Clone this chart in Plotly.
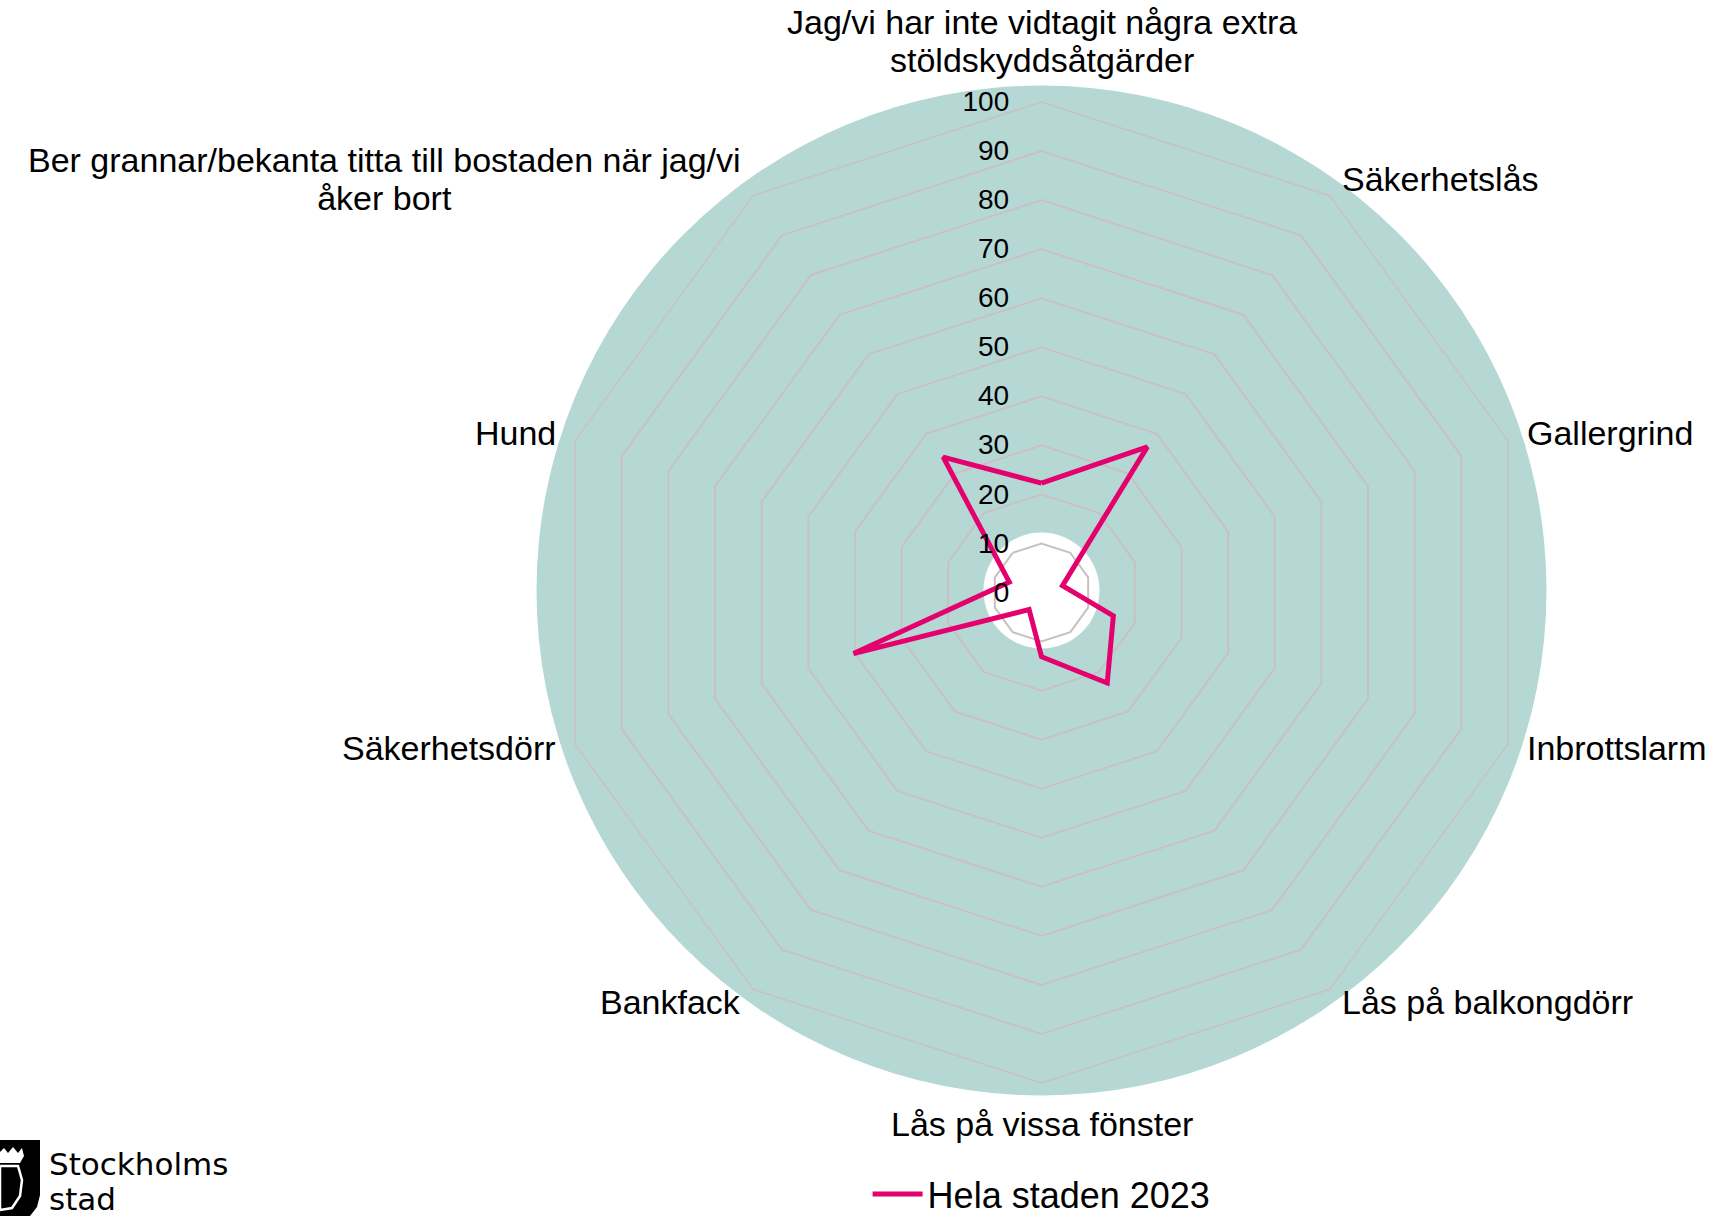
import math
import plotly.graph_objects as go

# ---------------- data ----------------
categories = [
    "Jag/vi har inte vidtagit några extra<br>stöldskyddsåtgärder",
    "Säkerhetslås",
    "Gallergrind",
    "Inbrottslarm",
    "Lås på balkongdörr",
    "Lås på vissa fönster",
    "Bankfack",
    "Säkerhetsdörr",
    "Hund",
    "Ber grannar/bekanta titta till bostaden när jag/vi<br>åker bort",
]
values_2023 = [22.3, 36.7, 4.5, 15.4, 22.8, 13.1, 4.3, 40.3, 6.9, 34.1]
series_name = "Hela staden 2023"
radial_ticks = [0, 10, 20, 30, 40, 50, 60, 70, 80, 90, 100]

# ---------------- layout geometry ----------------
W, H = 1716, 1216
CX, CY, R = 1041.5, 592.5, 490.5          # polar centre / radius in px
TEAL_R, HOLE_R = 505, 58
LABEL_PAD = 18

def px(x, y):
    return x / W, 1 - y / H

FONT = "Liberation Sans, Arial, sans-serif"
PINK = "#E4006D"
GRID = "#C9C0C2"
TEAL = "#B6D8D5"

fig = go.Figure()
fig.add_trace(go.Scatterpolar(
    r=values_2023 + values_2023[:1],
    theta=categories + categories[:1],
    mode="lines",
    line=dict(color=PINK, width=5),
    name=series_name,
    showlegend=True,
))

shapes = []
# teal disk behind the chart
x0, y0 = px(CX - TEAL_R, CY - 2 - TEAL_R)
x1, y1 = px(CX + TEAL_R, CY - 2 + TEAL_R)
shapes.append(dict(type="circle", xref="paper", yref="paper", x0=x0, x1=x1, y0=y1, y1=y0,
                   fillcolor=TEAL, line=dict(width=0), layer="below"))
# white centre
x0, y0 = px(CX - HOLE_R, CY - 2 - HOLE_R)
x1, y1 = px(CX + HOLE_R, CY - 2 + HOLE_R)
shapes.append(dict(type="circle", xref="paper", yref="paper", x0=x0, x1=x1, y0=y1, y1=y0,
                   fillcolor="white", line=dict(width=0), layer="below"))

# Stockholm shield (simplified)
def path(points, close=True):
    s = ""
    for i, (x, y) in enumerate(points):
        X, Y = px(x, y)
        s += ("M" if i == 0 else "L") + f"{X:.5f},{Y:.5f} "
    return s + ("Z" if close else "")

shield = [(0, 1140), (40, 1140), (40, 1195), (37, 1207), (30, 1216), (0, 1216)]
shapes.append(dict(type="path", xref="paper", yref="paper", path=path(shield),
                   fillcolor="black", line=dict(width=0)))
crown = [(0, 1152), (4, 1148), (8, 1153), (13, 1147), (18, 1153), (22, 1148), (24, 1156),
         (20, 1163), (0, 1163)]
shapes.append(dict(type="path", xref="paper", yref="paper", path=path(crown),
                   fillcolor="white", line=dict(width=0)))
face = [(0, 1166), (18, 1166), (22, 1180), (20, 1196), (12, 1208), (0, 1210)]
shapes.append(dict(type="path", xref="paper", yref="paper", path=path(face),
                   fillcolor="rgba(0,0,0,0)", line=dict(color="white", width=2.5)))

annotations = []
for txt, y in [("Stockholms", 1164), ("stad", 1199)]:
    X, Y = px(47, y)
    annotations.append(dict(text=txt, x=X, y=Y, xref="paper", yref="paper",
                            xanchor="left", yanchor="middle", showarrow=False, height=30,
                            font=dict(family="DejaVu Sans, sans-serif", size=31, color="black")))

# category labels placed around the polygon
N = len(categories)
for i, cat in enumerate(categories):
    a = math.radians(i * 360 / N)
    s, c = math.sin(a), math.cos(a)
    if c > 0.95:
        pad = 19
    elif c < -0.95:
        pad = 22
    else:
        pad = LABEL_PAD
    lx = CX + (R + pad) * s
    ly = CY - 2 - (R + pad) * c
    xa = "left" if s > 0.1 else ("right" if s < -0.1 else "center")
    ya = "bottom" if c > 0.95 else ("top" if c < -0.95 else "middle")
    X, Y = px(lx, ly)
    multiline = "<br>" in cat
    text = "<br>".join(f"<span style='font-size:34px'>{part}</span>" for part in cat.split("<br>")) if multiline else cat
    annotations.append(dict(text=text, x=X, y=Y, xref="paper", yref="paper",
                            xanchor=xa, yanchor=ya, align="center", showarrow=False,
                            font=dict(family=FONT, size=29 if multiline else 34, color="black")))

fig.update_layout(
    width=W, height=H,
    margin=dict(l=0, r=0, t=0, b=0, autoexpand=False),
    paper_bgcolor="white",
    plot_bgcolor="white",
    font=dict(family=FONT, color="black"),
    shapes=shapes,
    annotations=annotations,
    polar=dict(
        domain=dict(x=[(CX - R) / W, (CX + R) / W], y=[1 - (CY + R) / H, 1 - (CY - R) / H]),
        bgcolor="rgba(0,0,0,0)",
        gridshape="linear",
        angularaxis=dict(
            direction="clockwise", rotation=90,
            showgrid=False, showline=True, linecolor=GRID, linewidth=1.5,
            ticks="", showticklabels=False,
        ),
        radialaxis=dict(
            range=[0, 100], tickvals=radial_ticks, ticktext=[str(v) for v in radial_ticks],
            angle=90, side="counterclockwise", showline=False,
            gridcolor=GRID, gridwidth=1.5,
            ticks="outside", ticklen=22, tickcolor="rgba(0,0,0,0)",
            tickangle=90,
            tickfont=dict(size=28, family=FONT, color="black"),
        ),
    ),
    legend=dict(
        orientation="h", x=0.607, xanchor="center", y=22 / H, yanchor="middle",
        font=dict(size=36, family=FONT, color="black"),
        bgcolor="rgba(0,0,0,0)", itemwidth=50,
    ),
)

fig.write_html("out.html", config={"displayModeBar": False},
               post_script="document.body.style.margin='0';document.body.style.overflow='hidden';")
